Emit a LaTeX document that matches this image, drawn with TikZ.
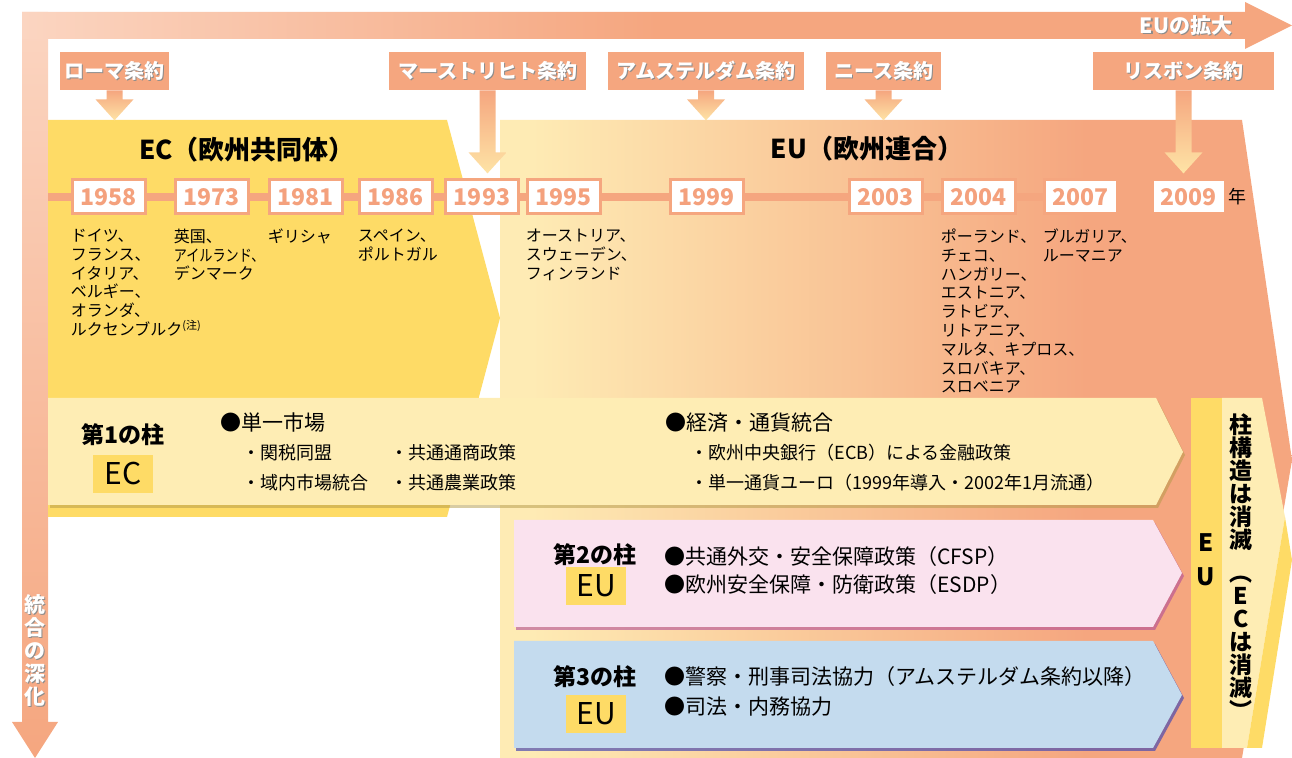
\documentclass[tikz,border=0pt]{standalone}
\usepackage{fontspec}
\usepackage{graphicx}
\setmainfont{Noto Sans CJK JP}
\usetikzlibrary{positioning,shadows}

\definecolor{salmon}{HTML}{F5A67F}
\definecolor{peach}{HTML}{FBD5C1}
\definecolor{ecyellow}{HTML}{FEDB66}
\definecolor{cream}{HTML}{FEEDB4}
\definecolor{eulight}{HTML}{FEEBB4}
\definecolor{pinkpillar}{HTML}{FAE2EE}
\definecolor{bluepillar}{HTML}{C4DBEE}
\definecolor{yeartext}{HTML}{F4A17D}
\definecolor{arrowtail}{HTML}{FEE4A6}

\pgfdeclarehorizontalshading{eushade}{100bp}{color(0bp)=(eulight); color(27bp)=(eulight); color(62bp)=(salmon); color(100bp)=(salmon)}
\pgfdeclarehorizontalshading{bandshade}{100bp}{color(0bp)=(peach); color(25bp)=(peach); color(50bp)=(salmon); color(100bp)=(salmon)}

\newcommand\shadowtxt[1]{\rlap{\kern.6pt\raisebox{-.6pt}{\textcolor{black!45}{#1}}}#1}

\begin{document}
\begin{tikzpicture}[x=0.5pt, y=-0.5pt,
    yearbox/.style={draw=salmon, line width=1.5pt, fill=white, minimum width=36.5pt, minimum height=17pt, inner sep=0, text=yeartext, font=\bfseries\fontsize{11.5}{12}\selectfont},
    treaty/.style={fill=salmon, text=white, minimum height=19pt, inner sep=0, font=\bfseries\fontsize{10}{12}\selectfont},
    treatyarrow/.style={top color=salmon, bottom color=arrowtail},
    country/.style={anchor=north west, inner sep=0, align=left, yshift=-6.5pt, font=\fontsize{8}{9.4}\selectfont},
    title/.style={font=\bfseries\fontsize{13}{15}\selectfont},
    pillartitle/.style={font=\bfseries\fontsize{11.5}{13}\selectfont},
    tag/.style={fill=ecyellow, minimum width=30pt, minimum height=19pt, inner sep=0, font=\fontsize{15}{16}\selectfont},
    item/.style={anchor=west, inner sep=0, font=\fontsize{10.5}{12}\selectfont},
    subitem/.style={anchor=west, inner sep=0, font=\fontsize{9}{11}\selectfont},
    vtext/.style={align=center, inner sep=0, font=\bfseries\fontsize{11.5}{11.5}\selectfont},
    bandtext/.style={text=white, inner sep=0, align=center, font=\bfseries\fontsize{10.5}{11.5}\selectfont}]
  \useasboundingbox (0,0) rectangle (1292,758);

  % frame arrows
  \shade[top color=peach, bottom color=salmon] (22,12) -- (48,12) -- (48,722) -- (58,722) -- (35,758) -- (12,722) -- (22,722) -- cycle;
  \shade[shading=bandshade] (22,12) -- (1245,12) -- (1245,2) -- (1292,25.5) -- (1245,49) -- (1245,39) -- (22,39) -- cycle;
  \node[bandtext] (expand) at (1186,26) {\shadowtxt{EUの拡大}};
  \node[bandtext] (deepen) at (35,651) {\shadowtxt{統}\\\shadowtxt{合}\\\shadowtxt{の}\\\shadowtxt{深}\\\shadowtxt{化}};

  % EC and EU blocks
  \fill[ecyellow] (48,120) -- (447,120) -- (500,318) -- (447,517) -- (48,517) -- cycle;
  \shade[shading=eushade] (500,120) -- (1242,120) -- (1292,460) -- (1242,758) -- (500,758) -- cycle;
  \node[title] (ectitle) at (247,150) {EC（欧州共同体）};
  \node[title] (eutitle) at (867,149) {EU（欧州連合）};

  % timeline
  \coordinate (tlstart) at (48,197);
  \coordinate (tlend) at (1188,197);
  \draw[salmon, line width=4pt] (tlstart) -- (tlend);
  \foreach \yr/\x in {1958/108.5, 1973/211.5, 1981/305.5, 1986/395.5, 1993/482, 1995/563.5,
      1999/706.5, 2003/885.5, 2004/978.5, 2007/1080.5, 2009/1188.5}
    \node[yearbox] (y\yr) at (\x,197) {\yr};
  \node[right=1pt of y2009, inner sep=0, font=\fontsize{9}{10}\selectfont] (nen) {年};

  % treaties
  \node[treaty, minimum width=54.5pt] (rome) at (114.5,71) {\shadowtxt{ローマ条約}};
  \node[treaty, minimum width=98.5pt] (maas) at (487.5,71) {\shadowtxt{マーストリヒト条約}};
  \node[treaty, minimum width=98pt] (amst) at (706,71) {\shadowtxt{アムステルダム条約}};
  \node[treaty, minimum width=57.5pt] (nice) at (883.5,71) {\shadowtxt{ニース条約}};
  \node[treaty, minimum width=90.5pt] (lisb) at (1183.5,71) {\shadowtxt{リスボン条約}};
  \foreach \t/\len in {rome/30, maas/83, amst/30, nice/30, lisb/83}
    \shade[treatyarrow] (\t.south) ++(-8,0) -- ++(16,0) -- ++(0,\len-21) -- ++(11,0)
      -- ++(-19,21) -- ++(-19,-21) -- ++(11,0) -- cycle;

  % member states
  \node[country] (c1958) at (y1958.south west) {ドイツ、\\フランス、\\イタリア、\\ベルギー、\\オランダ、\\ルクセンブルク\raisebox{3pt}{\fontsize{5.5}{6}\selectfont(注)}};
  \node[country] (c1973) at (y1973.south west) {英国、\\\scalebox{0.82}[1]{アイルランド、}\\デンマーク};
  \node[country] (c1981) at (y1981.south west) {ギリシャ};
  \node[country] (c1986) at (y1986.south west) {スペイン、\\ポルトガル};
  \node[country] (c1995) at (y1995.south west) {オーストリア、\\スウェーデン、\\フィンランド};
  \node[country] (c2004) at (y2004.south west) {ポーランド、\\チェコ、\\ハンガリー、\\エストニア、\\ラトビア、\\リトアニア、\\マルタ、キプロス、\\スロバキア、\\スロベニア};
  \node[country] (c2007) at (y2007.south west) {ブルガリア、\\ルーマニア};

  % pillars
  \path[fill=cream, drop shadow={shadow xshift=1pt, shadow yshift=-1.5pt, fill=ecyellow!70!black, opacity=.5}]
    (48,398) -- (1156,398) -- (1183,452) -- (1156,505) -- (48,505) -- cycle;
  \path[fill=pinkpillar, drop shadow={shadow xshift=1pt, shadow yshift=-1.5pt, fill=violet!60!pink, opacity=.6}]
    (514,520) -- (1153,520) -- (1182,573) -- (1153,627) -- (514,627) -- cycle;
  \path[fill=bluepillar, drop shadow={shadow xshift=1pt, shadow yshift=-1.5pt, fill=blue!40!gray, opacity=.7}]
    (514,641) -- (1153,641) -- (1182,695) -- (1153,748) -- (514,748) -- cycle;

  \node[pillartitle] (p1) at (123,435) {第1の柱};
  \node[tag] (p1tag) at (123,474) {EC};
  \node[item] (market) at (220,423) {●単一市場};
  \node[subitem] (customs) at (242,453) {・関税同盟};
  \node[subitem] (trade) at (390,453) {・共通通商政策};
  \node[subitem] (internal) at (242,483) {・域内市場統合};
  \node[subitem] (agri) at (390,483) {・共通農業政策};
  \node[item] (emu) at (665,423) {●経済・通貨統合};
  \node[subitem] (ecb) at (690,453) {・欧州中央銀行（ECB）による金融政策};
  \node[subitem] (euro) at (690,483) {・単一通貨ユーロ（1999年導入・2002年1月流通）};

  \node[pillartitle] (p2) at (595,555) {第2の柱};
  \node[tag] (p2tag) at (596,586) {EU};
  \node[item] (cfsp) at (664,557) {●共通外交・安全保障政策（CFSP）};
  \node[item] (esdp) at (664,585) {●欧州安全保障・防衛政策（ESDP）};

  \node[pillartitle] (p3) at (595,677) {第3の柱};
  \node[tag] (p3tag) at (596,714) {EU};
  \node[item] (police) at (664,677) {●警察・刑事司法協力（アムステルダム条約以降）};
  \node[item] (justice) at (664,707) {●司法・内務協力};

  % after Lisbon
  \fill[ecyellow] (1191,398) rectangle (1222,748);
  \fill[cream] (1222,398) -- (1262,398) -- (1285,517) -- (1247,748) -- (1222,748) -- cycle;
  \fill[ecyellow] (1285,517) -- (1292,560) -- (1262,748) -- (1247,748) -- cycle;
  \node[vtext, font=\bfseries\fontsize{12}{17}\selectfont] (eustrip) at (1206,560) {E\\U};
  \node[vtext] (nopillar) at (1241,567) {柱\\構\\造\\は\\消\\滅\\[5pt]︵\\E\\C\\は\\消\\滅\\︶};
\end{tikzpicture}
\end{document}
